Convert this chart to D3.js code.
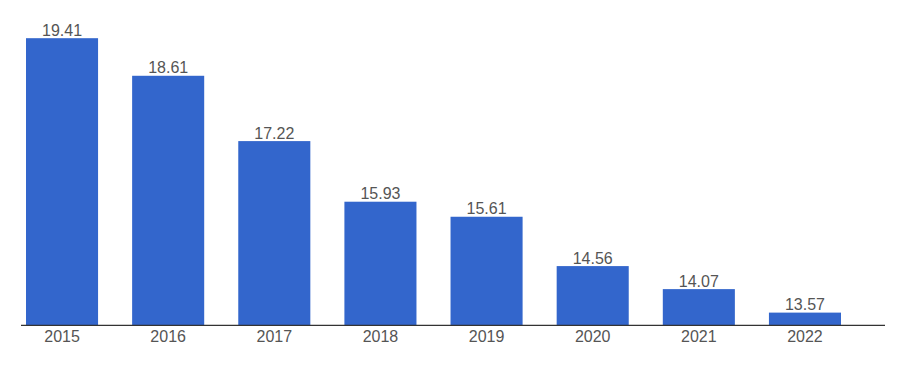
<!DOCTYPE html>
<html><head><meta charset="utf-8">
<script src="https://cdn.jsdelivr.net/npm/d3@7"></script>
<style>body{margin:0;background:#fff}svg{display:block}</style>
</head><body>
<svg id="c" width="897" height="366"></svg>
<script>
const years = ["2015","2016","2017","2018","2019","2020","2021","2022"];
const values = [19.41, 18.61, 17.22, 15.93, 15.61, 14.56, 14.07, 13.57];
const labels = ["19.41","18.61","17.22","15.93","15.61","14.56","14.07","13.57"];

const svg = d3.select("#c");
const x = d3.scaleBand().domain(years).range([26, 841]).paddingInner(0.321).paddingOuter(0);
const y = d3.scaleLinear().domain([13.3, 20.2]).range([325.3, 325.3 - 6.9*46.99]);
const font = "Liberation Sans, Arial, sans-serif";

svg.selectAll("rect.bar").data(values).join("rect")
  .attr("class","bar")
  .attr("x",(d,i)=>x(years[i]))
  .attr("width",x.bandwidth())
  .attr("y",d=>y(d))
  .attr("height",d=>y(13.3)-y(d))
  .attr("fill","#3366cc");

svg.selectAll("text.val").data(values).join("text")
  .attr("class","val")
  .attr("x",(d,i)=>x(years[i])+x.bandwidth()/2)
  .attr("y",d=>y(d)-2.5)
  .attr("text-anchor","middle")
  .attr("font-family",font).attr("font-size",16)
  .attr("fill","#555")
  .text((d,i)=>labels[i]);

const ax = svg.append("g").attr("transform","translate(0,325.3)")
  .call(d3.axisBottom(x).tickSize(0).tickPadding(0));
ax.select(".domain").remove();
ax.selectAll("text").attr("font-family",font).attr("font-size",16).attr("fill","#555")
  .attr("dy",null).attr("y",16.5);
svg.append("line").attr("x1",21).attr("x2",885).attr("y1",325.3).attr("y2",325.3)
  .attr("stroke","#333").attr("stroke-width",1.2);
</script>
</body></html>
